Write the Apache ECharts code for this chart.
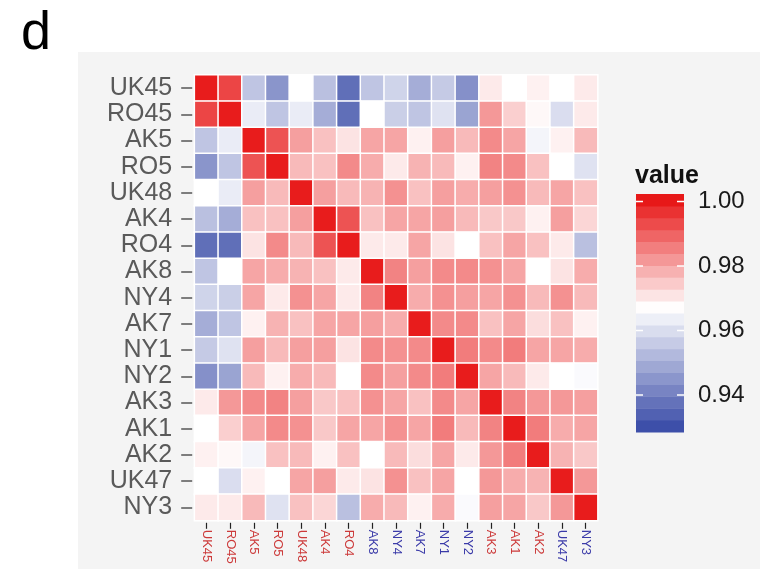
<!DOCTYPE html>
<html><head><meta charset="utf-8">
<script src="https://cdn.jsdelivr.net/npm/echarts@6/dist/echarts.min.js"></script>
<style>html,body{margin:0;padding:0;background:#fff}#c{width:760px;height:569px}</style>
</head><body><div id="c"></div>
<script>
const categories = ['UK45','RO45','AK5','RO5','UK48','AK4','RO4','AK8','NY4','AK7','NY1','NY2','AK3','AK1','AK2','UK47','NY3'];
const labelGroup = ['r','r','r','r','r','r','r','b','b','b','b','b','r','r','r','b','b'];
const legendTicks = [0.94, 0.96, 0.98, 1.00];

const UK45 = [1.000,0.994,0.955,0.945,0.967,0.954,0.937,0.955,0.958,0.950,0.956,0.944,0.970,0.967,0.969,0.967,0.970];
const RO45 = [0.994,1.000,0.963,0.955,0.963,0.950,0.937,0.967,0.957,0.955,0.961,0.948,0.982,0.974,0.968,0.960,0.970];
const AK5  = [0.955,0.963,1.000,0.992,0.981,0.976,0.971,0.980,0.980,0.969,0.981,0.977,0.984,0.980,0.965,0.969,0.977];
const RO5  = [0.945,0.955,0.992,1.000,0.977,0.976,0.984,0.979,0.970,0.978,0.977,0.969,0.985,0.984,0.976,0.967,0.961];
const UK48 = [0.967,0.963,0.981,0.977,1.000,0.981,0.977,0.978,0.983,0.976,0.981,0.979,0.981,0.983,0.977,0.980,0.976];
const AK4  = [0.954,0.950,0.976,0.976,0.981,1.000,0.992,0.976,0.980,0.980,0.981,0.977,0.975,0.975,0.969,0.981,0.973];
const RO4  = [0.937,0.937,0.971,0.984,0.977,0.992,1.000,0.970,0.970,0.980,0.971,0.967,0.976,0.980,0.976,0.970,0.954];
const AK8  = [0.955,0.967,0.980,0.979,0.978,0.976,0.970,1.000,0.985,0.981,0.984,0.984,0.983,0.980,0.967,0.971,0.979];
const NY4  = [0.958,0.957,0.980,0.970,0.983,0.980,0.970,0.985,1.000,0.979,0.983,0.981,0.980,0.983,0.977,0.983,0.977];
const AK7  = [0.950,0.955,0.969,0.978,0.976,0.980,0.980,0.981,0.979,1.000,0.984,0.984,0.976,0.980,0.972,0.976,0.969];
const NY1  = [0.956,0.961,0.981,0.977,0.981,0.981,0.971,0.984,0.983,0.984,1.000,0.986,0.984,0.986,0.980,0.980,0.979];
const NY2  = [0.944,0.948,0.977,0.969,0.979,0.977,0.967,0.984,0.981,0.984,0.986,1.000,0.980,0.977,0.970,0.967,0.966];
const AK3  = [0.970,0.982,0.984,0.985,0.981,0.975,0.976,0.983,0.980,0.976,0.984,0.980,1.000,0.985,0.982,0.982,0.981];
const AK1  = [0.967,0.974,0.980,0.984,0.983,0.975,0.980,0.980,0.983,0.980,0.986,0.977,0.985,1.000,0.986,0.979,0.980];
const AK2  = [0.969,0.968,0.965,0.976,0.977,0.969,0.976,0.967,0.977,0.972,0.980,0.970,0.982,0.986,1.000,0.978,0.975];
const UK47 = [0.967,0.960,0.969,0.967,0.980,0.981,0.970,0.971,0.983,0.976,0.980,0.967,0.982,0.979,0.978,1.000,0.982];
const NY3  = [0.970,0.970,0.977,0.961,0.976,0.973,0.954,0.979,0.977,0.969,0.979,0.966,0.981,0.980,0.975,0.982,1.000];

const matrix = [UK45,RO45,AK5,RO5,UK48,AK4,RO4,AK8,NY4,AK7,NY1,NY2,AK3,AK1,AK2,UK47,NY3];

const data = [];
matrix.forEach((row, i) => row.forEach((v, j) => data.push([j, i, v])));

// colour bar bins (legend rendering of the scale)
const barMin = 0.92853, barMax = 1.00233, nbin = 20;
const bw = (barMax - barMin) / nbin;
const bins = [];
for (let k = 0; k < nbin; k++) { const lo = barMin + k * bw; bins.push([lo, lo + bw, lo + bw / 2]); }

const FF = '"Liberation Sans", Arial, sans-serif';
const chart = echarts.init(document.getElementById('c'));
chart.setOption({
  animation: false,
  backgroundColor: '#ffffff',
  graphic: [
    { type: 'rect', z: -10, silent: true, shape: { x: 78, y: 52, width: 682, height: 517 }, style: { fill: '#f4f4f4' } },
    { type: 'text', x: 21, y: 34, style: { text: 'd', font: '54px ' + FF, fill: '#000', verticalAlign: 'middle' } },
    { type: 'text', x: 635, y: 176, style: { text: 'value', font: 'bold 25px ' + FF, fill: '#111', verticalAlign: 'middle' } }
  ],
  grid: [
    { left: 194.6, top: 75, width: 403, height: 445.4 },
    { left: 636, top: 194, width: 48, height: 238 }
  ],
  visualMap: {
    show: false, type: 'continuous', min: 0.930, max: 1.004, dimension: 2, seriesIndex: [0, 1],
    inRange: { color: ['#3B4DA8', '#FFFFFF', '#E50000'] }
  },
  xAxis: [
    {
      type: 'category', gridIndex: 0, data: categories, position: 'bottom', offset: 2.4,
      axisLine: { show: false }, splitLine: { show: false },
      axisTick: { show: true, alignWithLabel: true, length: 6, lineStyle: { color: '#222', width: 1.2 } },
      axisLabel: {
        rotate: -90, margin: 7, interval: 0,
        formatter: (v, idx) => '{' + labelGroup[idx] + '|' + v + '}',
        rich: {
          r: { color: '#cc3a3a', fontSize: 13, fontFamily: FF },
          b: { color: '#3a3aa8', fontSize: 13, fontFamily: FF }
        }
      }
    },
    { type: 'value', gridIndex: 1, min: 0, max: 1, show: false }
  ],
  yAxis: [
    {
      type: 'category', gridIndex: 0, data: categories, inverse: true, offset: 2.4,
      axisLine: { show: false }, splitLine: { show: false },
      axisTick: { show: true, alignWithLabel: true, length: 11, lineStyle: { color: '#555', width: 1.5 } },
      axisLabel: { fontSize: 25, color: '#5a5a5a', fontFamily: FF, margin: 20, interval: 0 }
    },
    {
      type: 'value', gridIndex: 1, min: barMin, max: barMax, position: 'right',
      axisLine: { show: false }, splitLine: { show: false }, axisTick: { show: false },
      axisLabel: { customValues: legendTicks, formatter: v => v.toFixed(2), fontSize: 24, color: '#1a1a1a', fontFamily: FF, margin: 14 }
    }
  ],
  series: [
    {
      type: 'heatmap', xAxisIndex: 0, yAxisIndex: 0, data: data,
      itemStyle: { borderColor: '#ffffff', borderWidth: 1.5 },
      emphasis: { disabled: true }
    },
    {
      type: 'custom', xAxisIndex: 1, yAxisIndex: 1, data: bins, silent: true,
      encode: { y: [0, 1] },
      renderItem: (params, api) => {
        const lo = api.value(0), hi = api.value(1);
        const p1 = api.coord([0, hi]);
        const p2 = api.coord([1, lo]);
        return { type: 'rect', shape: { x: p1[0], y: p1[1], width: p2[0] - p1[0], height: p2[1] - p1[1] + 0.5 }, style: { fill: api.visual('color') } };
      }
    },
    {
      type: 'custom', xAxisIndex: 1, yAxisIndex: 1, data: legendTicks.map(v => [v]), silent: true, z: 5,
      encode: { y: 0 },
      renderItem: (params, api) => {
        const v = api.value(0);
        const a = api.coord([0, v]);
        const b = api.coord([1, v]);
        const st = { stroke: '#ffffff', lineWidth: 1.5 };
        return { type: 'group', children: [
          { type: 'line', shape: { x1: a[0], y1: a[1], x2: a[0] + 7, y2: a[1] }, style: st },
          { type: 'line', shape: { x1: b[0] - 7, y1: b[1], x2: b[0], y2: b[1] }, style: st }
        ] };
      }
    }
  ]
});
</script>
</body></html>
